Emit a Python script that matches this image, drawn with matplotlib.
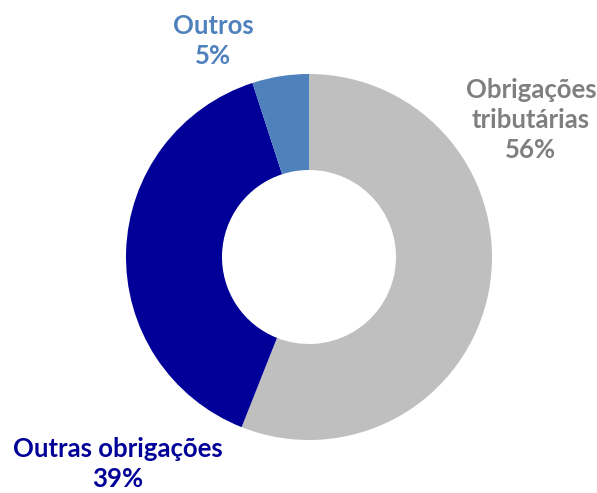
import matplotlib
matplotlib.use("Agg")
import matplotlib.pyplot as plt

# data
labels = ["Obrigações\ntributárias", "Outras obrigações", "Outros"]
shares = [56, 39, 5]
colors = ["#BFBFBF", "#000099", "#4F81BD"]
text_colors = ["#7F7F7F", "#000099", "#4F81BD"]

W, H = 597, 493
cx, cy, R = 309, 257, 183

fig = plt.figure(figsize=(W / 100, H / 100), dpi=100)
ax = fig.add_axes([(cx - R) / W, (H - cy - R) / H, 2 * R / W, 2 * R / H])
ax.pie(shares, colors=colors, startangle=90, counterclock=False,
       radius=1.0, wedgeprops=dict(width=1 - 87 / 183, linewidth=0))
ax.set_xlim(-1, 1)
ax.set_ylim(-1, 1)
ax.set_aspect("equal")
ax.axis("off")

# label positions in pixels (center of text block)
label_pos = [(531, 120), (118, 464), (213, 41)]
for lab, s, c, (px, py) in zip(labels, shares, text_colors, label_pos):
    fig.text(px / W, 1 - py / H, f"{lab}\n{s}%", ha="center", va="center",
             color=c, fontsize=18.5, fontweight="bold", family="Lato",
             linespacing=1.32)

fig.savefig("out.png", dpi=100)
